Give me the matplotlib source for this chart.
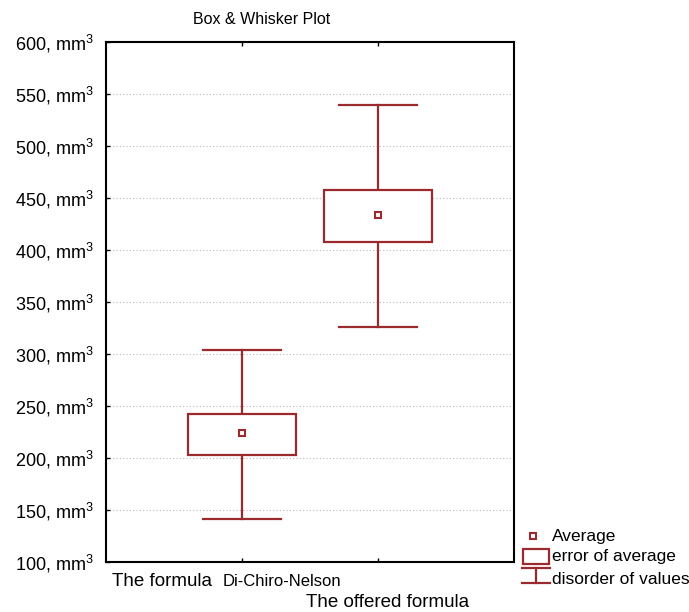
import matplotlib
matplotlib.use('Agg')
import matplotlib.pyplot as plt
from matplotlib.patches import Rectangle
from matplotlib.transforms import blended_transform_factory

plt.rcParams['font.family'] = ['Liberation Sans', 'DejaVu Sans']
plt.rcParams['mathtext.fontset'] = 'custom'
plt.rcParams['mathtext.rm'] = 'Liberation Sans'
plt.rcParams['mathtext.it'] = 'Liberation Sans'

# values, mm^3
groups = ['The formula Di-Chiro-Nelson', 'The offered formula']
means = [224, 434]
box_low = [203, 408]
box_high = [242, 458]
whisk_low = [141, 326]
whisk_high = [304, 539]
yticks = [100, 150, 200, 250, 300, 350, 400, 450, 500, 550, 600]

red = '#9b2a2e'

fig = plt.figure(figsize=(6.89, 6.12), dpi=100)
ax = fig.add_axes([106/689, 1-562/612, 408/689, 520/612])

boxw = 0.8
capw = 0.57
for i in range(len(groups)):
    x = i + 1
    ax.plot([x, x], [whisk_low[i], box_low[i]], color=red, lw=1.6, zorder=3)
    ax.plot([x, x], [box_high[i], whisk_high[i]], color=red, lw=1.6, zorder=3)
    ax.plot([x-capw/2, x+capw/2], [whisk_low[i]]*2, color=red, lw=1.6, zorder=3)
    ax.plot([x-capw/2, x+capw/2], [whisk_high[i]]*2, color=red, lw=1.6, zorder=3)
    ax.add_patch(Rectangle((x-boxw/2, box_low[i]), boxw, box_high[i]-box_low[i],
                           fill=True, fc='white', ec=red, lw=1.6, zorder=3))
    ax.plot(x, means[i], marker='s', ms=5, mfc='white', mec=red, mew=1.5, zorder=4)

ax.set_xlim(0, 3)
ax.set_ylim(100, 600)
ax.set_yticks(yticks)
ax.set_yticklabels(['%d, mm$^3$' % v for v in yticks], fontsize=13)
ax.set_xticks([1, 2])
ax.set_xticklabels(['', ''])
ax.tick_params(axis='both', direction='in', length=3, width=1, top=True, right=False)
ax.tick_params(axis='y', pad=9)
ax.grid(axis='y', color='#b8b8b8', ls=(0, (1, 2)), lw=0.8)
for s in ax.spines.values():
    s.set_linewidth(1.5)
    s.set_color('black')

tr = blended_transform_factory(ax.transData, ax.transAxes)
ax.text(0.415, -0.037, 'The formula', transform=tr, fontsize=13.5, ha='center', va='center')
ax.text(1.29, -0.037, 'Di-Chiro-Nelson', transform=tr, fontsize=12, ha='center', va='center',
        family=['Liberation Sans Narrow', 'Liberation Sans'])
ax.text(2.07, -0.077, groups[1], transform=tr, fontsize=13.5, ha='center', va='center')

fig.text(262/689, 1-20/612, 'Box & Whisker Plot', fontsize=11.5, ha='center', va='center')

# legend drawn by hand at the lower right
lg = fig.add_axes([515/689, 1-598/612, 174/689, 73/612])
lg.set_xlim(0, 174)
lg.set_ylim(73, 0)
lg.axis('off')
lg.plot(18, 11, marker='s', ms=5, mfc='white', mec=red, mew=1.5)
lg.add_patch(Rectangle((8, 24), 26, 15, fill=False, ec=red, lw=1.6))
lg.plot([7, 35], [43, 43], color=red, lw=1.6)
lg.plot([21, 21], [43, 58], color=red, lw=1.6)
lg.plot([7, 35], [58, 58], color=red, lw=1.6)
lg.text(37, 11, 'Average', fontsize=12.5, va='center')
lg.text(37, 32, 'error of average', fontsize=12.5, va='center')
lg.text(37, 54, 'disorder of values', fontsize=12.5, va='center')

fig.savefig('out.png', dpi=100)
